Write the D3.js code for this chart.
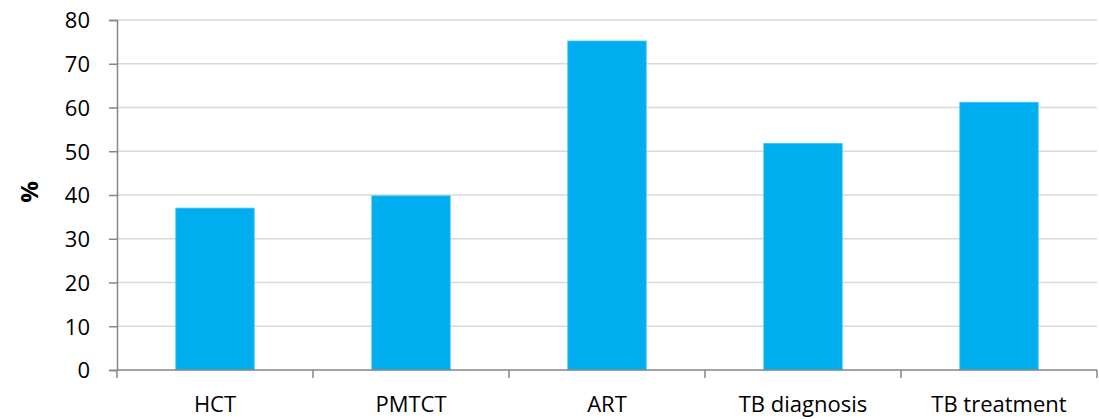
<!DOCTYPE html>
<html>
<head>
<meta charset="utf-8">
<script src="https://cdn.jsdelivr.net/npm/d3@7"></script>
<style>
  body { margin: 0; background: #fff; }
  text { font-family: "Open Sans", Lato, sans-serif; fill: #000; }
</style>
</head>
<body>
<div id="chart"></div>
<script>
const categories = ["HCT", "PMTCT", "ART", "TB diagnosis", "TB treatment"];
const values = [37.0, 39.8, 75.2, 51.8, 61.2];
const yTicks = [0, 10, 20, 30, 40, 50, 60, 70, 80];

const width = 1099, height = 419;
const margin = { top: 20, right: 2, bottom: 49, left: 117 };

const svg = d3.select("#chart").append("svg")
    .attr("width", width)
    .attr("height", height);

const x = d3.scaleBand()
    .domain(categories)
    .range([margin.left, width - margin.right])
    .paddingInner(0.6)
    .paddingOuter(0.3);

const y = d3.scaleLinear()
    .domain([0, 80])
    .range([height - margin.bottom, margin.top]);

// gridlines
svg.append("g")
    .selectAll("line")
    .data(yTicks.slice(1))
    .enter().append("line")
    .attr("x1", margin.left)
    .attr("x2", width - margin.right)
    .attr("y1", d => y(d))
    .attr("y2", d => y(d))
    .attr("stroke", "#d9d9d9")
    .attr("stroke-width", 1.5);

// bars
svg.selectAll(".bar")
    .data(values)
    .enter().append("rect")
    .attr("x", (d, i) => x(categories[i]))
    .attr("y", d => y(d))
    .attr("width", x.bandwidth())
    .attr("height", d => y(0) - y(d))
    .attr("fill", "#00aeef")
    .attr("stroke", "#3cc3f5")
    .attr("stroke-width", 0.8);

// y axis
const yAxis = svg.append("g")
    .attr("transform", `translate(${margin.left},0)`)
    .call(d3.axisLeft(y).tickValues(yTicks).tickSize(8).tickPadding(19));
yAxis.selectAll("text").style("font-size", "22px").attr("dy", "0.36em");
yAxis.select(".domain").attr("stroke", "#868686").attr("stroke-width", 1.5);
yAxis.selectAll(".tick line").attr("stroke", "#868686").attr("stroke-width", 1.5);

// x axis: ticks at category boundaries
const step = x.step();
const boundaries = d3.range(categories.length + 1).map(i => margin.left + i * step);
const xg = svg.append("g");
xg.append("line")
    .attr("x1", margin.left).attr("x2", width - margin.right)
    .attr("y1", y(0)).attr("y2", y(0))
    .attr("stroke", "#868686").attr("stroke-width", 1.5);
xg.selectAll(".xt")
    .data(boundaries)
    .enter().append("line")
    .attr("x1", d => d).attr("x2", d => d)
    .attr("y1", y(0)).attr("y2", y(0) + 8)
    .attr("stroke", "#868686").attr("stroke-width", 1.5);
xg.selectAll(".xl")
    .data(categories)
    .enter().append("text")
    .attr("x", d => x(d) + x.bandwidth() / 2)
    .attr("y", y(0) + 42)
    .attr("text-anchor", "middle")
    .style("font-size", "22px")
    .text(d => d);

// y title
svg.append("text")
    .attr("transform", `translate(38,192) rotate(-90)`)
    .attr("text-anchor", "middle")
    .style("font-size", "24px")
    .style("font-weight", "bold")
    .text("%");
</script>
</body>
</html>
